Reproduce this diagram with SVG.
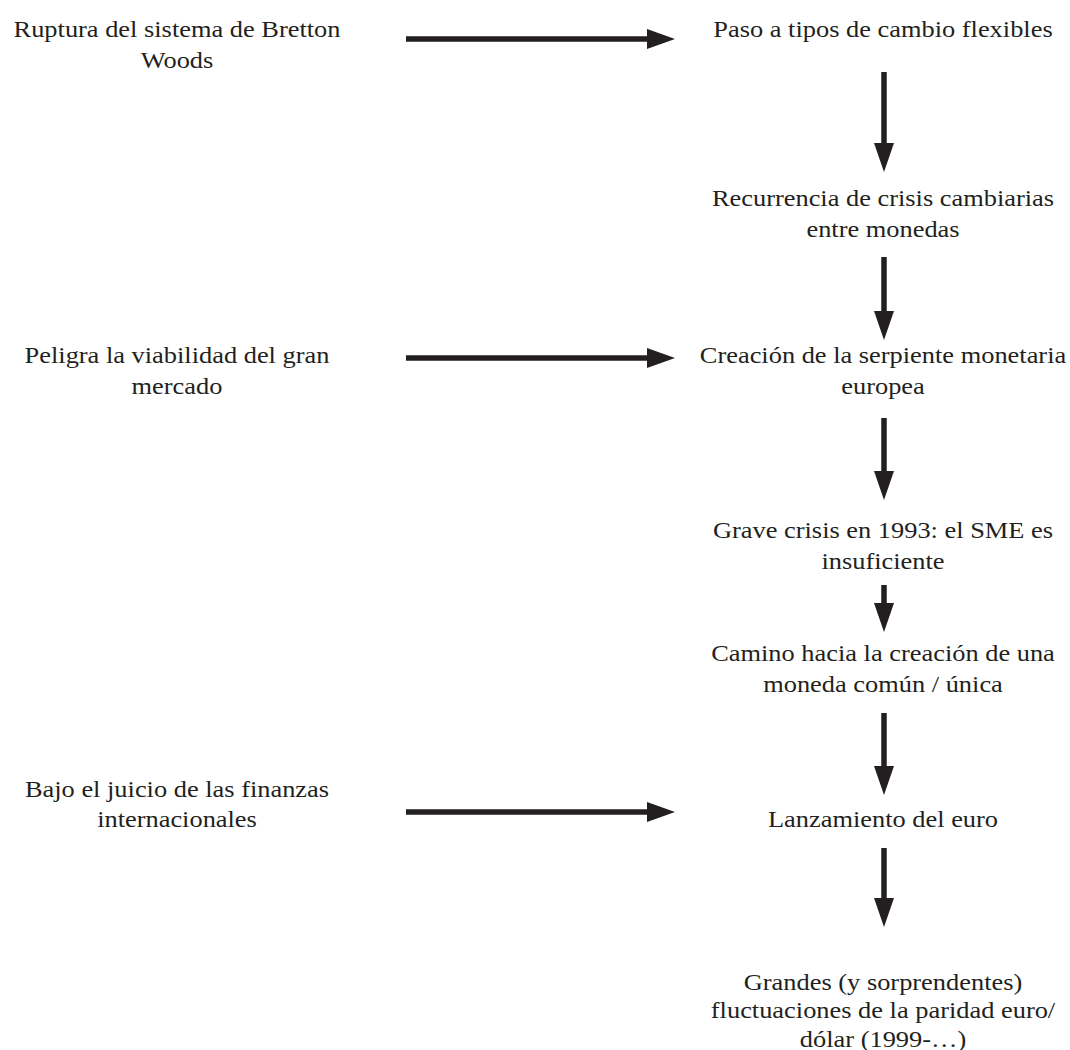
<svg xmlns="http://www.w3.org/2000/svg" width="1070" height="1050" viewBox="0 0 1070 1050">
<defs>
<style>
text{font-family:"Liberation Serif","Times New Roman",serif;font-size:24px;fill:#231f20;text-anchor:middle}
.ln{stroke:#231f20;stroke-width:5.5;fill:none}
.hd{fill:#231f20}
</style>
</defs>
<rect width="1070" height="1050" fill="#fff"/>
<g id="n1" transform="translate(177 0) scale(1.1 1)"><text x="0" y="37">Ruptura del sistema de Bretton</text><text x="0" y="68">Woods</text></g>
<g id="n2" transform="translate(883 0) scale(1.1 1)"><text x="0" y="37">Paso a tipos de cambio flexibles</text></g>
<g id="n3" transform="translate(883 0) scale(1.1 1)"><text x="0" y="206">Recurrencia de crisis cambiarias</text><text x="0" y="237">entre monedas</text></g>
<g id="n4" transform="translate(177 0) scale(1.1 1)"><text x="0" y="363">Peligra la viabilidad del gran</text><text x="0" y="394">mercado</text></g>
<g id="n5" transform="translate(883 0) scale(1.1 1)"><text x="0" y="363">Creación de la serpiente monetaria</text><text x="0" y="394">europea</text></g>
<g id="n6" transform="translate(883 0) scale(1.1 1)"><text x="0" y="538">Grave crisis en 1993: el SME es</text><text x="0" y="569">insuficiente</text></g>
<g id="n7" transform="translate(883 0) scale(1.1 1)"><text x="0" y="661">Camino hacia la creación de una</text><text x="0" y="692">moneda común / única</text></g>
<g id="n8" transform="translate(177 0) scale(1.1 1)"><text x="0" y="797">Bajo el juicio de las finanzas</text><text x="0" y="827">internacionales</text></g>
<g id="n9" transform="translate(883 0) scale(1.1 1)"><text x="0" y="827">Lanzamiento del euro</text></g>
<g id="n10" transform="translate(883 0) scale(1.1 1)"><text x="0" y="990">Grandes (y sorprendentes)</text><text x="0" y="1018">fluctuaciones de la paridad euro/</text><text x="0" y="1047">dólar (1999-…)</text></g>
<g id="connectors">
<line class="ln" x1="406" y1="39" x2="650" y2="39"/><polygon class="hd" points="647,29 675,39 647,49"/>
<line class="ln" x1="406" y1="358" x2="650" y2="358"/><polygon class="hd" points="647,348 675,358 647,368"/>
<line class="ln" x1="406" y1="812" x2="650" y2="812"/><polygon class="hd" points="647,802 675,812 647,822"/>
<line class="ln" x1="884" y1="72" x2="884" y2="146"/><polygon class="hd" points="874,143 884,172 894,143"/>
<line class="ln" x1="884" y1="257" x2="884" y2="314"/><polygon class="hd" points="874,311 884,340 894,311"/>
<line class="ln" x1="884" y1="418" x2="884" y2="474"/><polygon class="hd" points="874,471 884,500 894,471"/>
<line class="ln" x1="884" y1="585" x2="884" y2="606"/><polygon class="hd" points="874,603 884,632 894,603"/>
<line class="ln" x1="884" y1="713" x2="884" y2="769"/><polygon class="hd" points="874,766 884,795 894,766"/>
<line class="ln" x1="884" y1="848" x2="884" y2="901"/><polygon class="hd" points="874,898 884,927 894,898"/>
</g>
</svg>
